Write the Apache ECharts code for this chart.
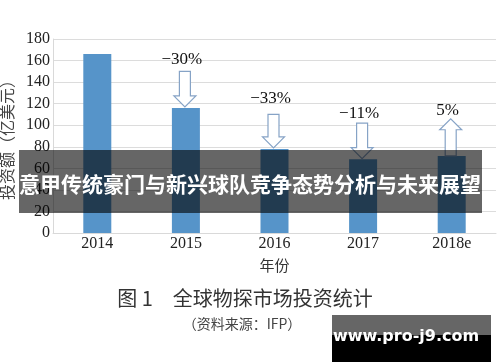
<!DOCTYPE html>
<html>
<head>
<meta charset="utf-8">
<script src="https://cdn.jsdelivr.net/npm/echarts@6/dist/echarts.min.js"></script>
<style>
html,body{margin:0;padding:0;background:#fff;}
#chart{width:500px;height:362px;}
</style>
</head>
<body>
<div id="chart"></div>
<script>
// ---- data ----
var years = ['2014', '2015', '2016', '2017', '2018e'];
var investment = [166, 116, 78, 68.5, 71.5];
var changeLabels = [null, '\u221230%', '\u221233%', '\u221211%', '5%'];
var arrowFrom = [null, 150, 110, 102, 71.5];
var arrowTo = [null, 117, 79, 69, 106];
var labelAt = [null, 161, 125, 111, 114];
var yTicks = [0, 20, 40, 60, 80, 100, 120, 140, 160, 180];

var yAxisName = '投资额（亿美元）';
var xAxisName = '年份';
var bannerText = '意甲传统豪门与新兴球队竞争态势分析与未来展望';
var captionTitle = '图 1　全球物探市场投资统计';
var captionSource = '（资料来源：IFP）';
var watermark = 'www.pro-j9.com';

var arrowData = [];
for (var i = 0; i < years.length; i++) {
  if (arrowFrom[i] !== null) arrowData.push([i, arrowFrom[i], arrowTo[i], labelAt[i], changeLabels[i]]);
}

var chart = echarts.init(document.getElementById('chart'));
var serif = '"Liberation Serif", "Times New Roman", serif';
var cjk = '"Noto Sans CJK SC", sans-serif';

chart.setOption({
  animation: false,
  grid: { left: 53, right: 4, top: 39, bottom: 129, containLabel: false, outerBoundsMode: 'none' },
  xAxis: {
    type: 'category',
    data: years,
    name: xAxisName,
    nameLocation: 'middle',
    nameGap: 25,
    nameTextStyle: { fontFamily: cjk, fontSize: 15, color: '#333', verticalAlign: 'top' },
    axisLine: { lineStyle: { color: '#d9d9d9', width: 1 } },
    axisTick: { show: false },
    axisLabel: { fontFamily: serif, fontSize: 16, color: '#222', margin: 3 }
  },
  yAxis: {
    type: 'value',
    min: yTicks[0],
    max: yTicks[yTicks.length - 1],
    interval: yTicks[1] - yTicks[0],
    name: yAxisName,
    nameLocation: 'middle',
    nameRotate: 90,
    nameGap: 38,
    nameTextStyle: { fontFamily: cjk, fontSize: 16, color: '#444' },
    axisLine: { show: true, lineStyle: { color: '#d9d9d9', width: 1 } },
    axisTick: { show: false },
    splitLine: { lineStyle: { color: '#dcdcdc', width: 1 } },
    axisLabel: { fontFamily: serif, fontSize: 16, color: '#222', margin: 3 }
  },
  series: [
    {
      type: 'bar',
      data: investment,
      barWidth: 28,
      itemStyle: { color: '#5694c9' },
      z: 2
    },
    {
      type: 'custom',
      data: arrowData,
      encode: { x: 0, y: 1 },
      z: 5,
      renderItem: function (params, api) {
        var idx = api.value(0);
        var p1 = api.coord([idx, api.value(1)]);
        var p2 = api.coord([idx, api.value(2)]);
        var pl = api.coord([idx, api.value(3)]);
        var x = p1[0] - 1;
        var y1 = p1[1], y2 = p2[1];
        var sw = 5.5, hw = 11, hl = 11;
        var dir = y2 > y1 ? 1 : -1;
        var yh = y2 - dir * hl;
        var pts = [
          [x - sw, y1], [x + sw, y1], [x + sw, yh], [x + hw, yh],
          [x, y2], [x - hw, yh], [x - sw, yh]
        ];
        var txt = arrowData[params.dataIndex][4];
        return {
          type: 'group',
          children: [
            {
              type: 'polygon',
              shape: { points: pts },
              style: { fill: '#ffffff', stroke: '#86a3c6', lineWidth: 1.2 }
            },
            {
              type: 'text',
              x: pl[0] - 4,
              y: pl[1],
              style: {
                text: txt,
                fontFamily: serif,
                fontSize: 17,
                fill: '#111',
                align: 'center',
                verticalAlign: 'middle'
              }
            }
          ]
        };
      }
    }
  ],
  graphic: [
    {
      type: 'rect', z: 100,
      shape: { x: 19, y: 150, width: 463, height: 63 },
      style: { fill: 'rgba(0,0,0,0.6)' }
    },
    {
      type: 'text', z: 101,
      x: 250, y: 184,
      style: {
        text: bannerText, fontFamily: cjk, fontSize: 21, fontWeight: 'bold',
        fill: '#ffffff', align: 'center', verticalAlign: 'middle'
      }
    },
    {
      type: 'text', z: 101,
      x: 245, y: 298,
      style: {
        text: captionTitle, fontFamily: cjk, fontSize: 20,
        fill: '#333', align: 'center', verticalAlign: 'middle'
      }
    },
    {
      type: 'text', z: 101,
      x: 242, y: 324,
      style: {
        text: captionSource, fontFamily: cjk, fontSize: 14,
        fill: '#444', align: 'center', verticalAlign: 'middle'
      }
    },
    {
      type: 'rect', z: 100,
      shape: { x: 332, y: 315, width: 159, height: 20 },
      style: { fill: '#666666' }
    },
    {
      type: 'rect', z: 100,
      shape: { x: 332, y: 335, width: 159, height: 27 },
      style: { fill: '#000000' }
    },
    {
      type: 'text', z: 101,
      x: 406, y: 337,
      style: {
        text: watermark, fontFamily: '"DejaVu Sans", sans-serif', fontSize: 16, fontWeight: 'bold',
        fill: '#ffffff', align: 'center', verticalAlign: 'middle'
      }
    }
  ]
});
</script>
</body>
</html>
